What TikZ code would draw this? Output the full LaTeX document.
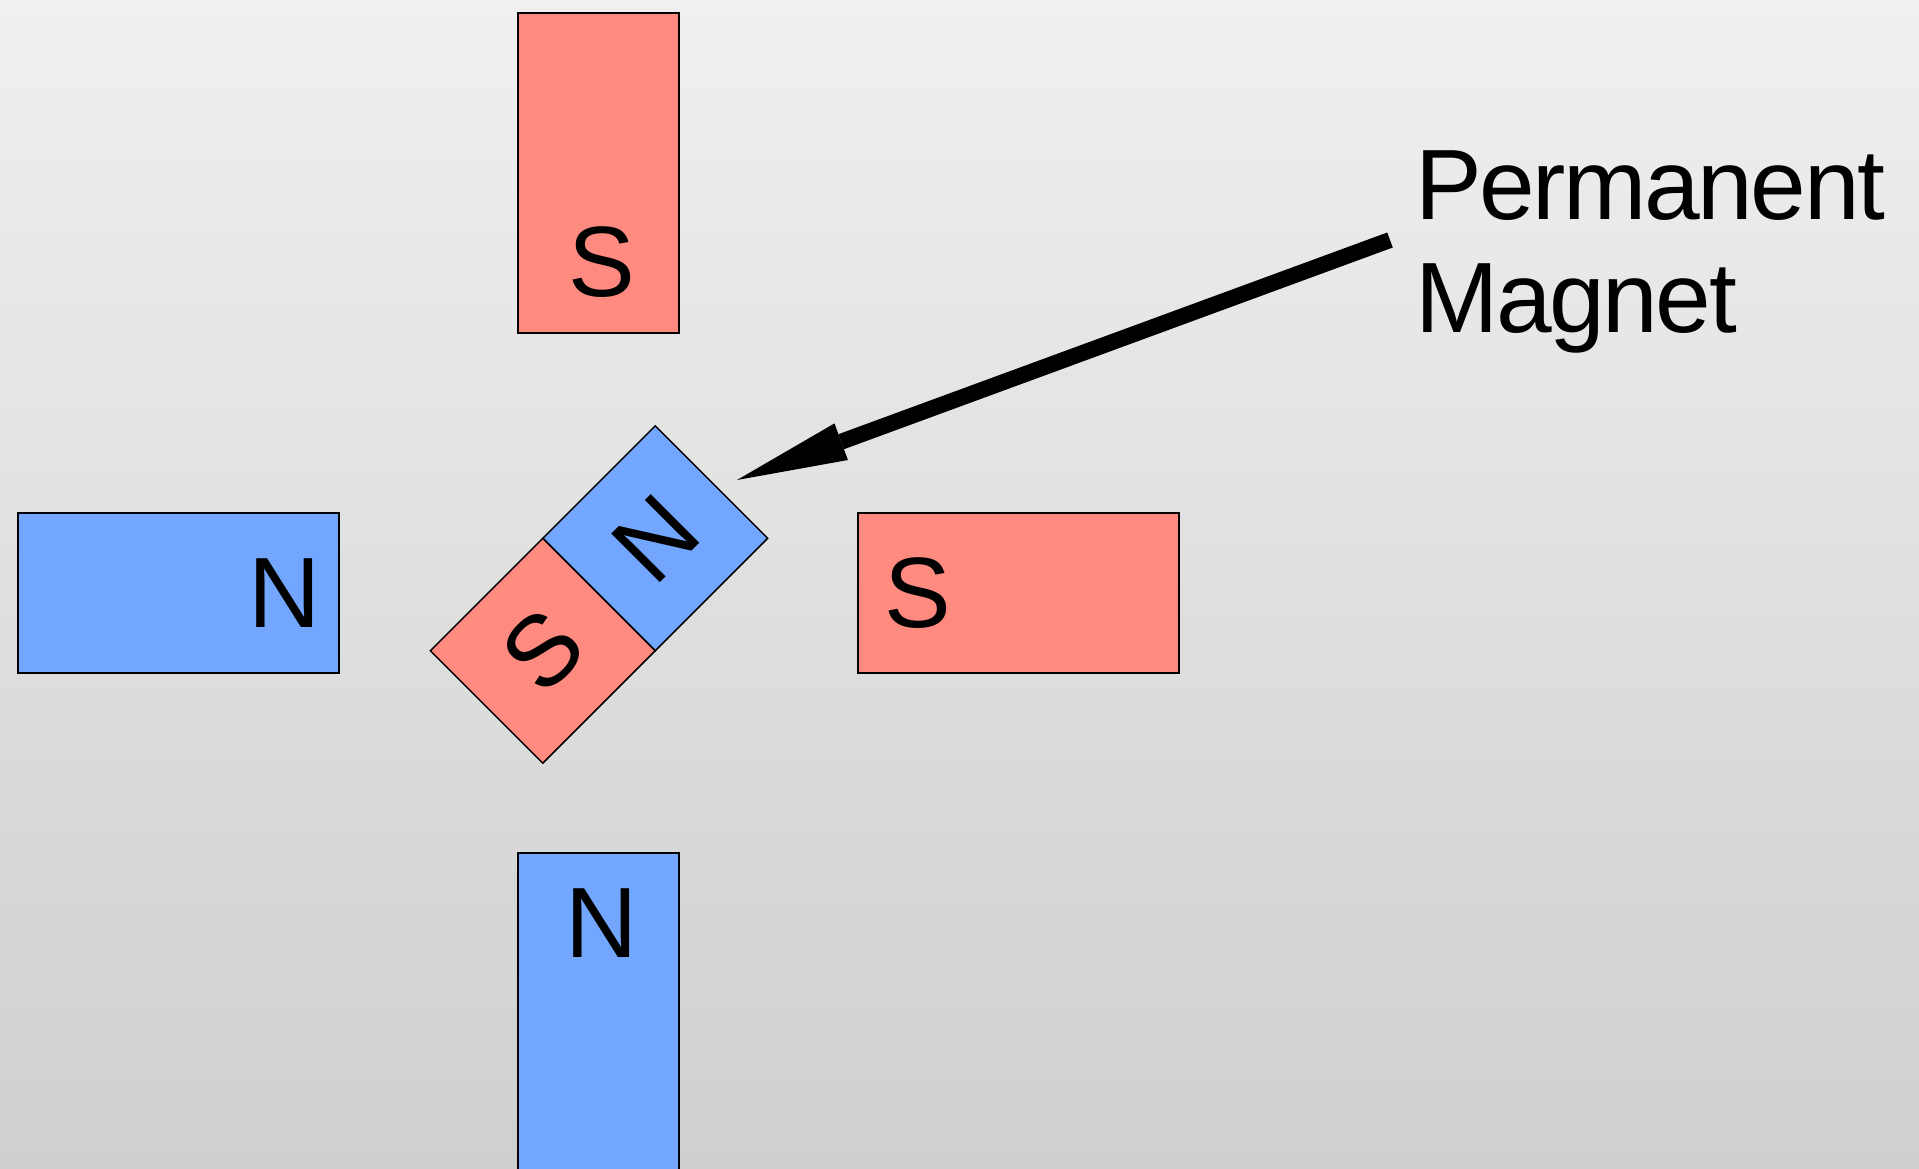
\documentclass[tikz,border=0pt]{standalone}
\usepackage{fontspec}
\setmainfont{Liberation Sans}
\newfontfamily\labelfont[LetterSpace=-2.4]{Liberation Sans}
\usetikzlibrary{arrows.meta}
\definecolor{bgtop}{RGB}{240,240,240}
\definecolor{bgbot}{RGB}{207,207,207}
\definecolor{magred}{RGB}{255,138,128}
\definecolor{magblue}{RGB}{114,166,255}
\tikzset{
  redmag/.style={draw=black, line width=1.5pt, fill=magred, rectangle, inner sep=0pt},
  bluemag/.style={draw=black, line width=1.5pt, fill=magblue, rectangle, inner sep=0pt},
  pole/.style={inner sep=0pt, font=\fontsize{100}{112}\selectfont},
  label/.style={inner sep=0pt, font=\labelfont\fontsize{100}{112}\selectfont, anchor=base west},
  pointer/.style={line width=16pt, draw=black, -{Triangle[length=111pt,width=39pt,line width=0pt]}}
}
\begin{document}
\begin{tikzpicture}[x=1pt,y=-1pt]
\useasboundingbox (0,0) rectangle (1919,1168);
\clip (0,0) rectangle (1919,1168);
\shade[top color=bgtop, bottom color=bgbot] (0,0) rectangle (1919,1168);
% fixed magnets
\node[redmag, minimum width=161pt, minimum height=320pt] (topmag) at (598.5,173) {};
\node[bluemag, minimum width=161pt, minimum height=320pt] (botmag) at (598.5,1013) {};
\node[bluemag, minimum width=321pt, minimum height=160pt] (leftmag) at (178.5,593) {};
\node[redmag, minimum width=321pt, minimum height=160pt] (rightmag) at (1018.5,593) {};
\node[pole] (topS) at (602,262) {S};
\node[pole] (botN) at (602,923) {N};
\node[pole] (leftN) at (285,593) {N};
\node[pole] (rightS) at (918,593) {S};
% rotating permanent magnet
\node[bluemag, rotate=45, minimum size=159pt, font=\fontsize{100}{112}\selectfont] (rotN) at (655.2,538.3) {N};
\node[redmag, rotate=45, minimum size=159pt, font=\fontsize{100}{112}\selectfont] (rotS) at (542.8,650.7) {S};
% label and pointer
\node[label] (perm) at (1415,219) {Permanent};
\node[label] (magn) at (1415,332) {Magnet};
\coordinate (tail) at (1390,240);
\coordinate (tip) at (737,480);
\draw[pointer] (tail) -- (tip);
\end{tikzpicture}
\end{document}
